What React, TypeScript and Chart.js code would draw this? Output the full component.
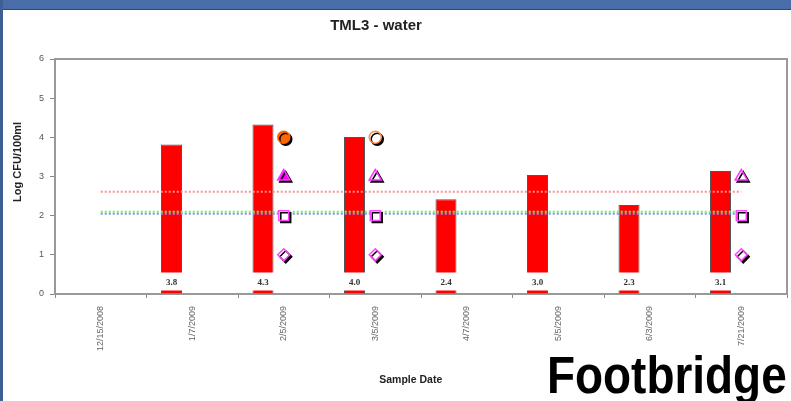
import React, { useEffect, useRef } from "react";
import { Chart, registerables } from "chart.js";

Chart.register(...registerables);

// ---------- data ----------
const chartTitle = "TML3 - water";
const xTitle = "Sample Date";
const yTitle = "Log CFU/100ml";
const categories = [
  "12/15/2008",
  "1/7/2009",
  "2/5/2009",
  "3/5/2009",
  "4/7/2009",
  "5/5/2009",
  "6/3/2009",
  "7/21/2009",
];
const logCfu = [null, 3.82, 4.33, 4.01, 2.42, 3.04, 2.27, 3.14];
const emptySlot = [null, null, null, null, null, null, null, null];
const redLimit = [2.61, 2.61, 2.61, 2.61, 2.61, 2.61, 2.61, 2.61];
const greenLimit = [2.1, 2.1, 2.1, 2.1, 2.1, 2.1, 2.1, 2.1];
const blueLimit = [2.05, 2.05, 2.05, 2.05, 2.05, 2.05, 2.05, 2.05];
const circleMarks = [null, null, 4.0, 4.0, null, null, null, null];
const triangleMarks = [null, null, 3.0, 3.0, null, null, null, 3.0];
const squareMarks = [null, null, 2.0, 2.0, null, null, null, 2.0];
const diamondMarks = [null, null, 1.0, 1.0, null, null, null, 1.0];
const yTicks = [0, 1, 2, 3, 4, 5, 6];

const FONT = 'Arial, "Liberation Sans", sans-serif';

// ---------- plugins ----------
const framePlugin = {
  id: "frame",
  beforeDatasetsDraw(chart: any) {
    const { ctx, chartArea: a } = chart;
    ctx.save();
    ctx.strokeStyle = "#999";
    ctx.lineWidth = 2;
    ctx.strokeRect(a.left, a.top, a.right - a.left, a.bottom - a.top);
    ctx.restore();
  },
};

const shadowPlugin = {
  id: "markerShadow",
  beforeDatasetDraw(chart: any, args: any) {
    const ds = chart.data.datasets[args.index];
    if (!ds.shadow) return;
    const ctx = chart.ctx;
    ctx.save();
    ctx.shadowColor = "#000";
    ctx.shadowOffsetX = 2;
    ctx.shadowOffsetY = 2;
    ctx.shadowBlur = 0;
  },
  afterDatasetDraw(chart: any, args: any) {
    const ds = chart.data.datasets[args.index];
    if (!ds.shadow) return;
    chart.ctx.restore();
  },
};

const barLabelPlugin = {
  id: "barLabels",
  afterDatasetsDraw(chart: any) {
    const { ctx } = chart;
    const meta = chart.getDatasetMeta(0);
    ctx.save();
    ctx.font = 'bold 9px "Liberation Serif", "Times New Roman", serif';
    ctx.textAlign = "center";
    ctx.textBaseline = "middle";
    meta.data.forEach((bar: any, i: number) => {
      const v = logCfu[i];
      if (v == null) return;
      const { x, width, base } = bar.getProps(["x", "width", "base"], true);
      const top = base - 21;
      const bottom = base - 3;
      ctx.fillStyle = "#fff";
      ctx.fillRect(x - width / 2 - 1, top, width + 2, bottom - top);
      ctx.fillStyle = "#333";
      ctx.fillText(v.toFixed(1), x, (top + bottom) / 2 + 1);
    });
    ctx.restore();
  },
};

const textPlugin = {
  id: "texts",
  afterDraw(chart: any) {
    const { ctx, chartArea: a } = chart;
    const w = a.right - a.left;
    const h = a.bottom - a.top;
    ctx.save();
    ctx.fillStyle = "#222";
    ctx.textAlign = "center";
    ctx.textBaseline = "middle";
    ctx.font = `bold 15px ${FONT}`;
    ctx.fillText(chartTitle, a.left + w * 0.4385, a.top - 33);
    ctx.font = `bold 10.5px ${FONT}`;
    ctx.fillText(xTitle, a.left + w * 0.486, a.bottom + 86);
    ctx.translate(a.left - 37, a.top + h * 0.438);
    ctx.rotate(-Math.PI / 2);
    ctx.font = `bold 11px ${FONT}`;
    ctx.fillText(yTitle, 0, 0);
    ctx.restore();
  },
};

export default function App() {
  const ref = useRef<HTMLCanvasElement>(null);

  useEffect(() => {
    const canvas = ref.current;
    if (!canvas) return;
    Chart.defaults.font.family = FONT;
    const chart = new Chart(canvas, {
      type: "bar",
      data: {
        labels: categories,
        datasets: [
          {
            type: "bar",
            label: "Log CFU",
            data: logCfu,
            backgroundColor: "#ff0000",
            borderColor: "#555",
            borderWidth: 1,
            categoryPercentage: 0.907,
            barPercentage: 0.506,
            order: 3,
          } as any,
          {
            type: "bar",
            label: "",
            data: emptySlot,
            categoryPercentage: 0.907,
            barPercentage: 0.506,
            order: 4,
          } as any,
          {
            type: "line",
            label: "red limit",
            data: redLimit,
            borderColor: "#ff8f8f",
            borderWidth: 2,
            borderDash: [2, 2],
            pointRadius: 0,
            fill: false,
            order: 2,
          } as any,
          {
            type: "line",
            label: "green limit",
            data: greenLimit,
            borderColor: "#70ee70",
            borderWidth: 2,
            borderDash: [2, 2],
            pointRadius: 0,
            fill: false,
            order: 2,
          } as any,
          {
            type: "line",
            label: "blue limit",
            data: blueLimit,
            borderColor: "#8c8cff",
            borderWidth: 2,
            borderDash: [2, 2],
            pointRadius: 0,
            fill: false,
            order: 2,
          } as any,
          {
            type: "line",
            label: "circle",
            data: circleMarks,
            showLine: false,
            pointStyle: "circle",
            pointRadius: 6,
            pointBorderWidth: 1.5,
            pointBackgroundColor: [null, null, "#ff6600", "#ffffff"],
            pointBorderColor: [null, null, "#ff6600", "#ff8c50"],
            shadow: true,
            order: 1,
          } as any,
          {
            type: "line",
            label: "triangle",
            data: triangleMarks,
            showLine: false,
            pointStyle: "triangle",
            pointRadius: 7,
            pointBorderWidth: 1.5,
            pointBackgroundColor: [null, null, "#ff00ff", "#ffffff", null, null, null, "#ffffff"],
            pointBorderColor: "#ff33ff",
            shadow: true,
            order: 1,
          } as any,
          {
            type: "line",
            label: "square",
            data: squareMarks,
            showLine: false,
            pointStyle: "rect",
            pointRadius: 7,
            pointBorderWidth: 1.5,
            pointBackgroundColor: "#ffffff",
            pointBorderColor: "#ff44ff",
            shadow: true,
            order: 1,
          } as any,
          {
            type: "line",
            label: "diamond",
            data: diamondMarks,
            showLine: false,
            pointStyle: "rectRot",
            pointRadius: 6,
            pointBorderWidth: 1.5,
            pointBackgroundColor: "#ffffff",
            pointBorderColor: "#ff44ff",
            shadow: true,
            order: 1,
          } as any,
        ],
      },
      options: {
        responsive: false,
        animation: false,
        devicePixelRatio: 1,
        layout: { autoPadding: false, padding: { left: 8, top: 59, right: 4, bottom: 12 } },
        plugins: {
          legend: { display: false },
          title: { display: false },
          tooltip: { enabled: false },
        },
        scales: {
          x: {
            offset: true,
            grid: {
              display: true,
              offset: true,
              drawOnChartArea: false,
              drawTicks: true,
              tickLength: 4,
              color: "#888",
            },
            border: { display: false },
            ticks: {
              color: "#666",
              font: { size: 9, family: FONT },
              minRotation: 90,
              maxRotation: 90,
              padding: 8,
              autoSkip: false,
            },
            afterFit: (s: any) => {
              s.height = 95;
              s.paddingLeft = 0;
              s.paddingRight = 0;
            },
          },
          y: {
            min: 0,
            max: 6,
            grid: {
              drawOnChartArea: false,
              drawTicks: true,
              tickLength: 5,
              color: "#888",
            },
            border: { display: false },
            ticks: {
              stepSize: 1,
              color: "#555",
              font: { size: 9, family: FONT },
              padding: 6,
              callback: (v: any) => (yTicks.includes(v) ? String(v) : ""),
            },
            afterFit: (s: any) => {
              s.width = 47;
            },
          },
        },
      },
      plugins: [framePlugin, shadowPlugin, barLabelPlugin, textPlugin],
    } as any);
    return () => chart.destroy();
  }, []);

  return (
    <div
      style={{
        position: "absolute",
        left: 0,
        top: 0,
        width: 791,
        height: 401,
        overflow: "hidden",
        background: "#fff",
      }}
    >
      <canvas
        ref={ref}
        width={791}
        height={401}
        style={{ position: "absolute", left: 0, top: 0, width: 791, height: 401 }}
      />
      <div
        style={{
          position: "absolute",
          left: 0,
          top: 0,
          width: 791,
          height: 9,
          background: "#4a6ea9",
          borderBottom: "1px solid #2f4a78",
        }}
      />
      <div
        style={{
          position: "absolute",
          left: 0,
          top: 0,
          width: 3,
          height: 401,
          background: "#3e5f96",
        }}
      />
      <div
        style={{
          position: "absolute",
          left: 547,
          top: 350,
          fontFamily: FONT,
          fontWeight: "bold",
          fontSize: 51,
          lineHeight: "51px",
          transform: "scaleX(0.9)",
          transformOrigin: "left top",
          whiteSpace: "nowrap",
          color: "#000",
        }}
      >
        Footbridge
      </div>
    </div>
  );
}
